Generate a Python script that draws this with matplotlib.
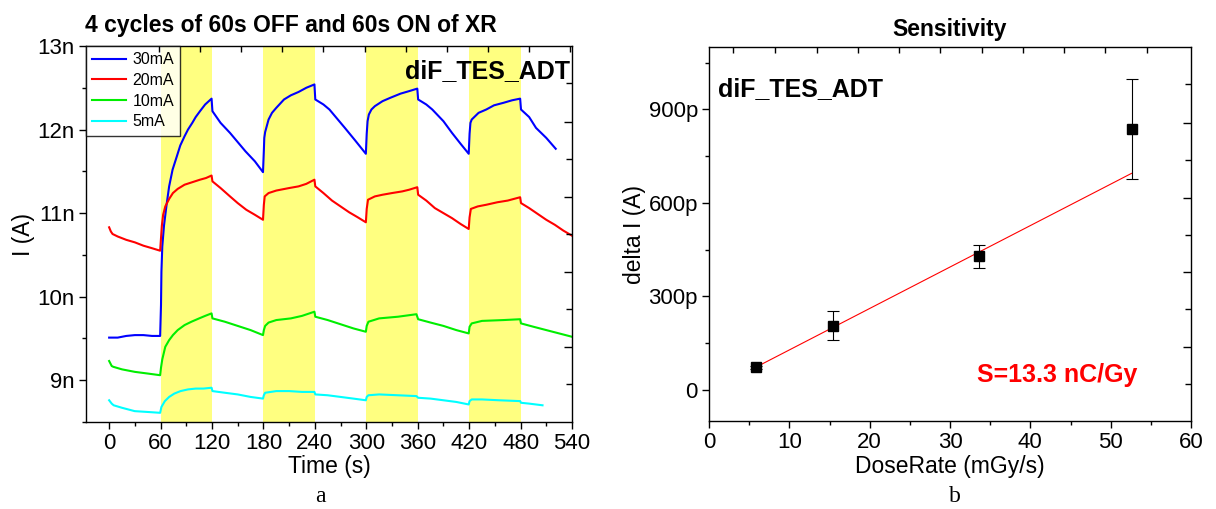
import matplotlib
matplotlib.use("Agg")
import matplotlib.pyplot as plt
from matplotlib.ticker import FuncFormatter, MultipleLocator

plt.rcParams["font.family"] = ["Liberation Sans", "DejaVu Sans"]

# ---- panel a: photocurrent during 4 OFF/ON cycles (nA) ----
t_30mA = [0, 10, 20, 30, 40, 50, 59.5, 60.5, 61, 62, 64, 67, 70, 74, 79, 83, 88, 92, 97, 101, 106, 112,
          119.5, 120.5, 130, 141, 150, 159, 170, 179.5, 180.5, 181, 182, 186, 190, 195, 204, 212, 221,
          230, 239.5, 240.5, 250, 257, 266, 275, 287, 299.5, 300.5, 301.5, 303, 306, 310, 319, 328, 340,
          350, 359.5, 360.5, 370, 377, 390, 400, 410, 419.5, 420.5, 421.5, 423, 431, 440, 449, 460, 470,
          479.5, 480.5, 490, 498, 510, 521]
i_30mA = [9.51, 9.51, 9.53, 9.54, 9.54, 9.53, 9.53, 9.9, 10.3, 10.6, 10.85, 11.1, 11.32, 11.52, 11.68,
          11.81, 11.92, 12.0, 12.08, 12.15, 12.22, 12.30,
          12.37, 12.22, 12.08, 11.96, 11.85, 11.74, 11.62, 11.49, 11.75, 11.9, 11.97, 12.12, 12.2, 12.26,
          12.36, 12.41, 12.45, 12.5, 12.54, 12.36, 12.3, 12.24, 12.13, 12.02, 11.87, 11.71, 11.95, 12.1,
          12.18, 12.24, 12.28, 12.34, 12.38, 12.43, 12.46, 12.49, 12.36, 12.3, 12.24, 12.1, 11.96, 11.83,
          11.71, 11.95, 12.08, 12.12, 12.2, 12.24, 12.29, 12.32, 12.35, 12.37, 12.24, 12.15, 12.02, 11.9,
          11.77]

t_20mA = [0, 2, 4, 10, 20, 30, 40, 50, 59.5, 60.5, 61.5, 63, 65.5, 70, 74.4, 80, 88, 97, 106, 113,
          119.5, 120.5, 130, 141, 150, 160, 170, 179.5, 180.5, 181.5, 186, 195, 210, 221, 230, 239.5,
          240.5, 250, 260, 270, 280, 290, 299.5, 300.5, 302, 310, 319, 330, 342, 350, 359.5, 360.5, 370,
          380, 390, 400, 410, 419.5, 420.5, 422, 430, 440, 453, 465, 479.5, 480.5, 490, 500, 510, 520,
          530, 540]
i_20mA = [10.83, 10.78, 10.75, 10.72, 10.68, 10.65, 10.61, 10.58, 10.55, 10.7, 10.85, 10.98, 11.08,
          11.17, 11.24, 11.29, 11.34, 11.37, 11.4, 11.42, 11.45, 11.38, 11.3, 11.2, 11.12, 11.04, 10.98,
          10.92, 11.1, 11.2, 11.24, 11.27, 11.3, 11.32, 11.35, 11.4, 11.32, 11.24, 11.15, 11.08, 11.01,
          10.95, 10.89, 11.05, 11.16, 11.2, 11.22, 11.24, 11.26, 11.28, 11.31, 11.22, 11.15, 11.06, 11.0,
          10.94, 10.87, 10.81, 10.95, 11.05, 11.08, 11.1, 11.13, 11.15, 11.19, 11.12, 11.06, 10.99, 10.92,
          10.86, 10.79, 10.73]

t_10mA = [0, 3, 5, 15, 30, 45, 59.5, 60.5, 62, 65.5, 70, 74.4, 80, 88, 96, 105, 112, 119.5, 120.5, 135,
          150, 165, 179.5, 180.5, 182, 186, 195, 212, 225, 239.5, 240.5, 255, 270, 285, 299.5, 300.5,
          302.5, 315, 337, 358.5, 360.5, 375, 390, 405, 419.5, 420.5, 423, 435, 460, 479.5, 480.5, 495,
          510, 525, 540]
i_10mA = [9.23, 9.17, 9.16, 9.13, 9.10, 9.08, 9.06, 9.15, 9.25, 9.4, 9.48, 9.54, 9.6, 9.66, 9.7, 9.74,
          9.77, 9.8, 9.74, 9.7, 9.65, 9.6, 9.54, 9.6, 9.65, 9.69, 9.72, 9.74, 9.77, 9.82, 9.76, 9.72,
          9.67, 9.62, 9.58, 9.65, 9.7, 9.74, 9.76, 9.79, 9.73, 9.69, 9.65, 9.6, 9.56, 9.64, 9.68, 9.71,
          9.72, 9.73, 9.68, 9.64, 9.6, 9.56, 9.52]

t_5mA = [0, 3, 5.3, 15, 29.8, 45, 59.5, 61, 65, 70, 76, 83.3, 92, 101, 110, 119.5, 120.5, 135, 150, 165,
         179.5, 180.5, 182, 195, 210, 225, 239.5, 240.5, 255, 270, 285, 299.5, 300.5, 302.5, 315, 337,
         358.5, 360.5, 375, 390, 405, 419.5, 420.5, 423, 435, 455, 479.5, 480.5, 490, 505.6]
i_5mA = [8.76, 8.72, 8.70, 8.67, 8.63, 8.62, 8.61, 8.68, 8.75, 8.8, 8.84, 8.87, 8.89, 8.9, 8.9, 8.91,
         8.87, 8.85, 8.83, 8.8, 8.78, 8.82, 8.85, 8.87, 8.87, 8.86, 8.86, 8.83, 8.82, 8.8, 8.78, 8.76,
         8.8, 8.82, 8.83, 8.82, 8.81, 8.79, 8.78, 8.76, 8.74, 8.71, 8.75, 8.77, 8.77, 8.76, 8.75, 8.73,
         8.72, 8.70]

xr_on = [(60, 120), (180, 240), (300, 360), (420, 480)]
series_labels = ["30mA", "20mA", "10mA", "5mA"]
series_colors = ["#0000ff", "#ff0000", "#00ee00", "#00ffff"]

# ---- panel b: sensitivity ----
dose_rate = [5.8, 15.4, 33.6, 52.6]        # mGy/s
delta_i = [72, 206, 428, 836]              # pA
delta_i_err = [6, 47, 38, 161]             # pA
fit_slope = 13.3                           # nC/Gy  (= pA per mGy/s)
fit_intercept = -5                         # pA

W, H = 1216, 509
fig = plt.figure(figsize=(W / 100, H / 100), dpi=100)


def px_axes(l, t, r, b):
    return fig.add_axes([l / W, 1 - b / H, (r - l) / W, (b - t) / H])


def style_axes(ax):
    for s in ax.spines.values():
        s.set_linewidth(1.0)
    ax.tick_params(which="major", direction="out", length=5, width=1, labelsize=16, pad=3)
    ax.tick_params(which="minor", direction="out", length=3, width=1)
    ax.tick_params(top=False, right=False)


def mirror_ticks(ax, ymaj, ymin, xticks):
    ar = ax.twinx()
    ar.set_ylim(ax.get_ylim())
    ar.set_yticks(ymaj)
    ar.set_yticks(ymin, minor=True)
    ar.tick_params(which="major", direction="in", length=6, width=1, labelright=False)
    ar.tick_params(which="minor", direction="in", length=4, width=1)
    at = ax.twiny()
    at.set_xlim(ax.get_xlim())
    at.set_xticks(xticks)
    at.tick_params(which="major", direction="in", length=4, width=1, labeltop=False)
    for a in (ar, at):
        for s in a.spines.values():
            s.set_visible(False)


# panel a
ax1 = px_axes(86, 46, 572, 422)
for t0, t1 in xr_on:
    ax1.axvspan(t0, t1, color="#ffff80", lw=0, zorder=0)
for tt, ii, lab, col in zip([t_30mA, t_20mA, t_10mA, t_5mA], [i_30mA, i_20mA, i_10mA, i_5mA],
                            series_labels, series_colors):
    ax1.plot(tt, ii, color=col, lw=1.5, label=lab)
ax1.set_xlim(-27, 540)
ax1.set_ylim(8.5, 13)
ax1.set_xticks(range(0, 541, 60))
ax1.xaxis.set_minor_locator(MultipleLocator(30))
ax1.set_yticks([9, 10, 11, 12, 13])
ax1.yaxis.set_minor_locator(MultipleLocator(0.5))
ax1.yaxis.set_major_formatter(FuncFormatter(lambda v, p: f"{v:.0f}n"))
style_axes(ax1)
ax1.set_xlabel("Time (s)", fontsize=16.5, labelpad=1)
ax1.set_ylabel("I (A)", fontsize=16.5, labelpad=2)
ax1.text(0.995, 0.965, "diF_TES_ADT", transform=ax1.transAxes, ha="right", va="top",
         fontsize=18, fontweight="bold")
leg = ax1.legend(loc="upper left", bbox_to_anchor=(0, 1), borderaxespad=0, fontsize=11.5,
                 frameon=True, fancybox=False, handlelength=2.1, labelspacing=0.35,
                 borderpad=0.4, handletextpad=0.4)
leg.get_frame().set_edgecolor("black")
leg.get_frame().set_linewidth(1.0)
mirror_ticks(ax1, [12.09, 11.19, 10.29, 9.40], [12.56, 11.65, 10.75, 9.85, 8.95],
             [58, 106, 154, 202, 250, 298, 346, 394, 442, 490, 538])
fig.text(85 / W, 1 - 32 / H, "4 cycles of 60s OFF and 60s ON of XR", fontsize=16.5,
         fontweight="bold", ha="left", va="baseline")
fig.text(320 / W, 1 - 502 / H, "a", fontsize=17, family="Liberation Serif", ha="center", va="baseline")

# panel b
ax2 = px_axes(709, 47, 1191, 421)
ax2.plot([dose_rate[0], dose_rate[-1]],
         [fit_slope * dose_rate[0] + fit_intercept, fit_slope * dose_rate[-1] + fit_intercept],
         color="#ff0000", lw=0.8, zorder=2)
ax2.errorbar(dose_rate, delta_i, yerr=delta_i_err, fmt="s", color="black", ms=6.5,
             ecolor="black", elinewidth=0.8, capsize=4, capthick=0.8, zorder=3)
ax2.set_xlim(0, 60)
ax2.set_ylim(-100, 1100)
ax2.set_xticks(range(0, 61, 10))
ax2.xaxis.set_minor_locator(MultipleLocator(5))
ax2.set_yticks([0, 300, 600, 900])
ax2.yaxis.set_minor_locator(MultipleLocator(150))
ax2.yaxis.set_major_formatter(FuncFormatter(lambda v, p: "0" if v == 0 else f"{v:.0f}p"))
style_axes(ax2)
ax2.set_xlabel("DoseRate (mGy/s)", fontsize=16.5, labelpad=1)
ax2.set_ylabel("delta I (A)", fontsize=16.5, labelpad=2)
ax2.set_title("Sensitivity", fontsize=16.5, fontweight="bold", pad=8)
ax2.text(0.018, 0.92, "diF_TES_ADT", transform=ax2.transAxes, ha="left", va="top",
         fontsize=18, fontweight="bold")
ax2.text(0.555, 0.105, f"S={fit_slope} nC/Gy", transform=ax2.transAxes, ha="left",
         va="baseline", fontsize=18, fontweight="bold", color="#ff0000")
mirror_ticks(ax2, [855, 616, 377, 137], [980, 737, 498, 259, 19],
             [3, 8.25, 13.4, 18.5, 23.6, 28.75, 34, 39.1, 44.25, 49.25, 54.5])
fig.text(955 / W, 1 - 502 / H, "b", fontsize=17, family="Liberation Serif", ha="center", va="baseline")

fig.savefig("out.png", dpi=100)
